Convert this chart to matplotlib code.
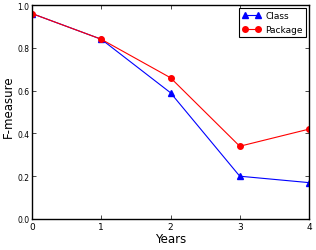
import matplotlib
matplotlib.use("Agg")
import matplotlib.pyplot as plt

years = [0, 1, 2, 3, 4]
class_vals = [0.96, 0.84, 0.59, 0.20, 0.17]
package_vals = [0.96, 0.84, 0.66, 0.34, 0.42]
xticks = [0, 1, 2, 3, 4]
yticks = [0.0, 0.2, 0.4, 0.6, 0.8, 1.0]

fig = plt.figure(figsize=(3.16, 2.51), dpi=100)
ax = fig.add_axes([32/316, 31/251, 277/316, 214/251])
ax.plot(years, class_vals, color='blue', marker='^', markersize=4, linewidth=0.8, label='Class')
ax.plot(years, package_vals, color='red', marker='o', markersize=4, linewidth=0.8, label='Package')
ax.set_xlim(0, 4)
ax.set_ylim(0, 1.0)
ax.set_xticks(xticks)
ax.set_yticks(yticks)
ax.set_xticklabels([str(t) for t in xticks], fontsize=6.5)
ax.set_yticklabels(['%.1f' % t for t in yticks], fontsize=5.5)
ax.tick_params(direction='in', top=True, right=True, length=3, width=0.5, pad=2)
for s in ax.spines.values():
    s.set_linewidth(1.0)
ax.set_xlabel('Years', fontsize=8.5, labelpad=1)
ax.set_ylabel('F-measure', fontsize=8.5)
ax.yaxis.set_label_coords(-0.062, 0.53)
leg = ax.legend(loc='upper right', fontsize=6.5, fancybox=False, edgecolor='black', framealpha=1, borderaxespad=0.3, handlelength=2.0, numpoints=2, handletextpad=0.5)
leg.get_frame().set_linewidth(0.8)
fig.savefig('out.png', dpi=100)
